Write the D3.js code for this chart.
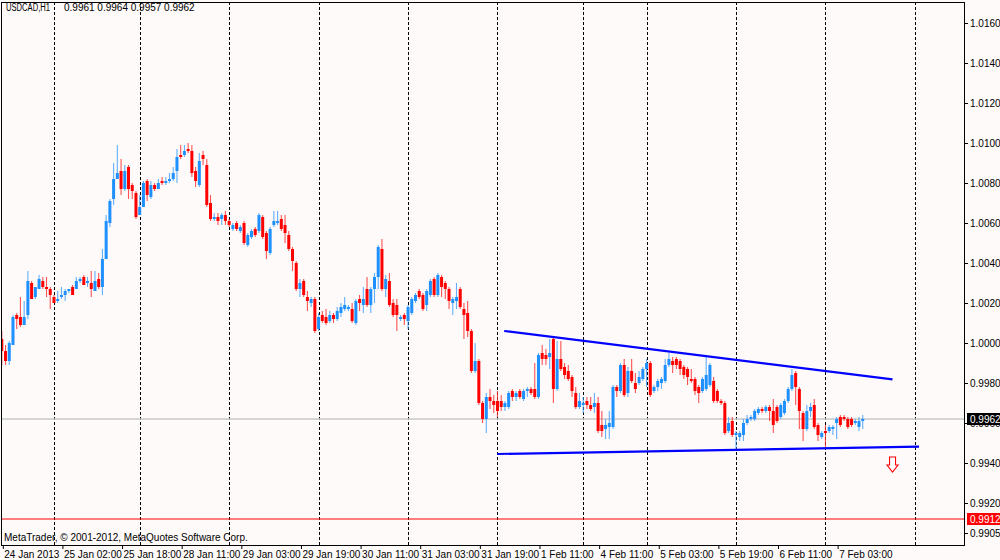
<!DOCTYPE html>
<html lang="en">
<head>
<meta charset="UTF-8">
<title>USDCAD,H1</title>
<script src="https://d3js.org/d3.v7.min.js"></script>
<style>
    body { margin: 0; background: #fdfaf9; }
    svg { display: block; font-family: "Liberation Sans", Arial, sans-serif; }
    .axis path { display: none; }
    .axis line { stroke: #000; }
    .axis text { font-size: 10px; fill: #000; font-family: "Liberation Sans", Arial, sans-serif; }
</style>
</head>
<body>
<script>
    /* hourly bars, values in pips from 1.0000 */
    const openPip = [
        2,-4,-9,-1,14,13,9,14,30,23, 27,31,28,27,23,21,23,24,26,28,
        27,31,33,30,30,26,32,28,42,60, 72,82,86,77,88,79,75,64,68,81,
        73,79,77,81,80,81,82,86,94,94, 97,96,86,79,94,89,70,62,63,62,
        64,61,57,60,56,60,49,53,57,56, 63,55,45,59,60,62,59,54,47,40,
        27,31,23,20,22,7,14,13,11,14, 12,15,17,17,17,10,22,19,27,19,
        27,33,47,27,31,20,19,12,14,11, 15,21,26,24,19,24,32,24,33,30,
        27,20,21,27,17,15,6,-14,-9,-30, -38,-27,-29,-29,-29,-32,-32,-24,-27,-24,
        -28,-24,-23,-23,-27,-5,-6,-7,2,-23, -8,-12,-14,-17,-25,-32,-31,-29,-31,-32,
        -30,-41,-43,-42,-42,-22,-24,-11,-25,-14, -20,-20,-18,-13,-10,-24,-22,-20,-19,-11,
        -9,-8,-9,-12,-13,-18,-18,-22,-24,-23, -21,-19,-24,-29,-30,-44,-39,-46,-47,-46,
        -40,-38,-38,-35,-33,-34,-32,-34,-32,-37, -35,-29,-23,-15,-23,-35,-43,-34,-31,-41,
        -47,-44,-44,-43,-40,-37,-37,-38,-38,-40, -42,-39
    ];
    const highPip = [
        6,-1,1,14,15,23,21,36,31,28, 34,33,33,28,24,26,28,27,27,29,
        33,33,34,33,36,36,35,47,64,72, 90,99,92,89,89,80,76,74,81,82,
        81,80,82,83,83,85,88,97,99,99, 100,99,88,95,96,92,74,65,65,65,
        66,62,60,61,59,61,55,57,58,65, 64,56,58,66,66,64,64,56,48,41,
        32,32,26,23,23,15,16,17,16,15, 18,20,23,19,20,22,24,28,33,28,
        35,49,52,34,35,22,22,14,15,19, 23,25,27,25,27,32,33,35,34,31,
        28,23,30,28,20,21,7,0,-8,-29, -25,-23,-26,-24,-26,-29,-24,-23,-24,-23,
        -23,-22,-22,-10,-5,-1,-3,2,3,1, 1,-10,-11,-16,-22,-25,-27,-27,-27,-25,
        -27,-34,-38,-34,-21,-21,-10,-8,-12,-8, -15,-14,-12,-8,-9,-21,-18,-17,-8,-5,
        -7,-7,-8,-11,-12,-13,-17,-21,-17,-6, -10,-17,-23,-28,-29,-37,-37,-44,-44,-38,
        -36,-36,-33,-32,-32,-31,-31,-28,-31,-30, -28,-22,-13,-14,-22,-34,-31,-30,-28,-40,
        -44,-41,-41,-41,-37,-36,-36,-37,-37,-38, -37,-36
    ];
    const lowPip = [
        -11,-11,-11,-1,7,8,9,12,22,22, 27,27,23,17,20,20,22,21,25,24,
        27,30,29,28,23,26,27,24,42,58, 69,82,74,76,72,72,62,64,68,71,
        72,76,77,79,79,80,81,80,92,93, 95,83,78,78,89,68,61,61,59,59,
        59,58,56,56,55,49,48,52,53,55, 52,42,44,58,59,56,50,46,36,26,
        23,23,16,18,5,6,10,9,10,10, 11,13,16,16,10,9,16,15,18,15,
        20,27,26,23,18,13,6,11,9,7, 14,20,22,16,16,23,23,23,23,22,
        17,14,17,17,2,3,-15,-15,-31,-40, -45,-33,-35,-37,-34,-34,-33,-29,-29,-28,
        -29,-27,-26,-28,-28,-11,-11,-13,-30,-24, -14,-18,-19,-27,-33,-33,-35,-33,-34,-35,
        -45,-47,-48,-48,-43,-27,-25,-27,-27,-20, -25,-21,-19,-22,-27,-25,-24,-23,-20,-12,
        -15,-13,-16,-18,-21,-20,-26,-30,-25,-24, -22,-30,-30,-31,-46,-45,-47,-53,-49,-49,
        -41,-39,-39,-36,-35,-35,-39,-45,-40,-38, -36,-30,-24,-31,-43,-49,-44,-37,-43,-49,
        -48,-52,-45,-46,-48,-42,-39,-43,-42,-41, -44,-43
    ];
    const closePip = [
        -4,-9,0,13,12,9,13,31,22,28, 32,28,27,24,20,22,24,26,27,24,
        31,32,29,31,27,31,28,42,61,71, 82,85,77,86,77,76,63,68,80,74,
        79,77,80,80,81,82,85,93,93,96, 96,85,81,91,92,69,62,63,61,64,
        61,59,59,57,58,50,54,56,54,64, 53,46,57,61,61,57,55,47,41,27,
        30,24,21,22,6,13,11,10,14,12, 16,18,19,18,11,21,20,22,19,27,
        33,48,27,32,19,14,14,13,12,18, 22,24,23,17,26,31,24,34,28,27,
        21,22,23,18,14,6,-14,-9,-30,-38, -27,-29,-31,-34,-32,-30,-25,-27,-25,-27,
        -24,-23,-25,-27,-6,-8,-8,-5,-23,-8, -13,-16,-18,-24,-32,-29,-30,-31,-33,-30,
        -44,-44,-41,-40,-22,-24,-11,-26,-14,-19, -23,-17,-13,-10,-26,-22,-19,-18,-11,-8,
        -11,-11,-13,-16,-17,-19,-24,-25,-18,-16, -11,-29,-29,-30,-45,-40,-46,-45,-45,-40,
        -38,-37,-34,-33,-34,-32,-34,-41,-39,-31, -29,-23,-16,-22,-34,-43,-34,-32,-42,-46,
        -45,-45,-42,-42,-38,-41,-38,-42,-41,-39, -39,-38
    ];

    /* time axis labels (bar index of each) and day separators */
    const timeLabelBars = [0, 16, 32, 48, 64, 80, 96, 112, 128, 144, 160, 176, 192, 208, 224];
    const timeLabels = ["24 Jan 2013", "25 Jan 02:00", "25 Jan 18:00", "28 Jan 11:00", "29 Jan 03:00",
                        "29 Jan 19:00", "30 Jan 11:00", "31 Jan 03:00", "31 Jan 19:00", "1 Feb 11:00",
                        "4 Feb 11:00", "5 Feb 03:00", "5 Feb 19:00", "6 Feb 11:00", "7 Feb 03:00"];
    const daySeparatorBars = [14, 37, 61, 85, 109, 133, 156, 173, 197, 221, 245];

    const priceTicks = [1.0160, 1.0140, 1.0120, 1.0100, 1.0080, 1.0060, 1.0040, 1.0020,
                        1.0000, 0.9980, 0.9960, 0.9940, 0.9920, 0.9905];

    /* chart objects */
    const upperTrend = [[134.8, 1.0006], [239.0, 0.99818]];
    const lowerTrend = [[132.9, 0.99445], [246.1, 0.99482]];
    const levelLine = 0.9912;
    const arrowBar = 239, arrowPrice = 0.9943;

    const toPrice = p => 1 + p / 10000;
    const bars = openPip.map((o, i) => ({
        i: i,
        o: toPrice(o), h: toPrice(highPip[i]), l: toPrice(lowPip[i]), c: toPrice(closePip[i])
    }));
    const last = bars[bars.length - 1];

    const W = 1000, H = 560;
    const plot = { left: 2, top: 2, right: 965, bottom: 545 };

    const x = d3.scaleLinear().domain([0, 245]).range([1.8, 914.9]);
    const y = d3.scaleLinear().domain([0.9905, 1.0160]).range([533, 23]);

    const svg = d3.select("body").append("svg")
        .attr("width", W).attr("height", H);

    svg.append("rect").attr("width", W).attr("height", H).attr("fill", "#fdfaf9");

    svg.append("clipPath").attr("id", "plotClip")
        .append("rect")
        .attr("x", plot.left).attr("y", plot.top)
        .attr("width", plot.right - plot.left).attr("height", plot.bottom - plot.top);

    const g = svg.append("g").attr("clip-path", "url(#plotClip)");

    /* day separators */
    g.selectAll(".sep").data(daySeparatorBars).enter().append("line")
        .attr("class", "sep")
        .attr("x1", d => Math.round(x(d)) + 0.5).attr("x2", d => Math.round(x(d)) + 0.5)
        .attr("y1", plot.top).attr("y2", plot.bottom)
        .attr("stroke", "#000").attr("stroke-width", 1)
        .attr("stroke-dasharray", "3,2");

    /* bid line and level line */
    g.append("line")
        .attr("x1", plot.left).attr("x2", plot.right)
        .attr("y1", y(last.c)).attr("y2", y(last.c))
        .attr("stroke", "#c8c8c8").attr("stroke-width", 1.5);

    g.append("line")
        .attr("x1", plot.left).attr("x2", plot.right)
        .attr("y1", y(levelLine)).attr("y2", y(levelLine))
        .attr("stroke", "#ff0000").attr("stroke-width", 1);

    /* candles */
    const up = d => d.c >= d.o;
    const candle = g.selectAll(".bar").data(bars).enter().append("g").attr("class", "bar");

    candle.append("line")
        .attr("x1", d => x(d.i)).attr("x2", d => x(d.i))
        .attr("y1", d => y(Math.max(d.h, d.o, d.c)))
        .attr("y2", d => y(Math.min(d.l, d.o, d.c)))
        .attr("stroke", d => up(d) ? "#3b9cff" : "#ff2a2a")
        .attr("stroke-opacity", 0.8)
        .attr("stroke-width", 1.1);

    candle.append("rect")
        .attr("x", d => x(d.i) - 1.5)
        .attr("width", 3)
        .attr("y", d => y(Math.max(d.o, d.c)))
        .attr("height", d => Math.max(1.2, Math.abs(y(d.o) - y(d.c))))
        .attr("fill", d => up(d) ? "#1e90ff" : "#ff0000");

    /* trend lines */
    const trend = d3.line().x(d => x(d[0])).y(d => y(d[1]));
    [upperTrend, lowerTrend].forEach(t => {
        g.append("path")
            .attr("d", trend(t))
            .attr("fill", "none")
            .attr("stroke", "#0000ff")
            .attr("stroke-width", 2.2);
    });

    /* sell arrow */
    const ax = x(arrowBar), ay = y(arrowPrice);
    g.append("path")
        .attr("d", `M${ax - 3},${ay} L${ax + 3},${ay} L${ax + 3},${ay + 8} L${ax + 5.5},${ay + 8}
                    L${ax},${ay + 15} L${ax - 5.5},${ay + 8} L${ax - 3},${ay + 8} Z`)
        .attr("fill", "#fff")
        .attr("stroke", "#ff0000")
        .attr("stroke-width", 1.1);

    /* frame */
    svg.append("rect")
        .attr("x", plot.left - 0.5).attr("y", plot.top + 0.5)
        .attr("width", plot.right - plot.left).attr("height", plot.bottom - plot.top)
        .attr("fill", "none").attr("stroke", "#000").attr("stroke-width", 1);

    /* price axis */
    const yAxis = d3.axisRight(y)
        .tickValues(priceTicks)
        .tickFormat(d3.format(".4f"))
        .tickSize(3)
        .tickPadding(2);
    svg.append("g").attr("class", "axis")
        .attr("transform", `translate(${plot.right}, 0)`)
        .call(yAxis);

    /* time axis */
    const xAxis = d3.axisBottom(x)
        .tickValues(timeLabelBars)
        .tickFormat((d, i) => timeLabels[i])
        .tickSize(4)
        .tickPadding(2);
    const xg = svg.append("g").attr("class", "axis")
        .attr("transform", `translate(0, ${plot.bottom})`)
        .call(xAxis);
    xg.selectAll(".tick line").attr("transform", "translate(1, 0)");
    xg.selectAll("text").attr("text-anchor", "start").attr("dx", 2);

    /* price tags */
    function priceTag(price, bg) {
        const t = svg.append("g").attr("transform", `translate(${plot.right + 2}, ${y(price)})`);
        t.append("rect").attr("x", 0).attr("y", -6).attr("width", 33).attr("height", 12).attr("fill", bg);
        t.append("text").attr("x", 3).attr("y", 3.5)
            .attr("fill", "#fff").attr("font-size", 10)
            .text(d3.format(".4f")(price));
    }
    priceTag(last.c, "#000");
    priceTag(levelLine, "#ff0000");

    /* header and copyright */
    svg.append("text")
        .attr("x", 6).attr("y", 11)
        .attr("font-size", 10)
        .attr("textLength", 44).attr("lengthAdjust", "spacingAndGlyphs")
        .text("USDCAD,H1");
    svg.append("text")
        .attr("x", 64).attr("y", 11)
        .attr("font-size", 10)
        .text([last.o, last.h, last.l, last.c].map(d3.format(".4f")).join(" "));

    svg.append("text")
        .attr("x", 4).attr("y", 541)
        .attr("font-size", 10)
        .text("MetaTrader, \u00a9 2001-2012, MetaQuotes Software Corp.");
</script>
</body>
</html>
